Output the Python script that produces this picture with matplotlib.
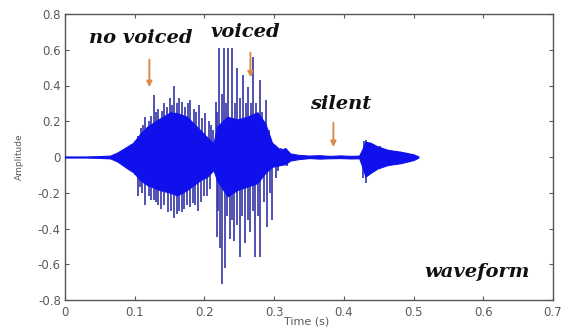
"""Speech waveform with unvoiced / voiced / silent segments marked."""

import numpy as np
import matplotlib.pyplot as plt

# dense core of the signal (envelope)
CORE_T = [0.000, 0.030, 0.050, 0.065, 0.075, 0.089, 0.098, 0.108, 0.118, 0.136, 0.151,
          0.161, 0.175, 0.194, 0.204, 0.213, 0.218, 0.233, 0.247, 0.261, 0.276,
          0.287, 0.297, 0.309, 0.316, 0.323, 0.335, 0.350, 0.365, 0.380, 0.395,
          0.410, 0.422, 0.426, 0.431, 0.438, 0.448, 0.463, 0.481, 0.500, 0.507]
CORE_HI = [0.003, 0.003, 0.005, 0.008, 0.025, 0.058, 0.080, 0.130, 0.170, 0.215, 0.250,
           0.245, 0.225, 0.150, 0.110, 0.076, 0.170, 0.225, 0.210, 0.225, 0.250,
           0.190, 0.080, 0.040, 0.050, 0.020, 0.012, 0.008, 0.010, 0.006, 0.009,
           0.006, 0.008, 0.040, 0.085, 0.080, 0.060, 0.040, 0.030, 0.015, 0.003]
CORE_LO = [-0.003, -0.003, -0.005, -0.008, -0.025, -0.063, -0.085, -0.130, -0.157, -0.185, -0.200,
           -0.215, -0.185, -0.130, -0.110, -0.073, -0.130, -0.220, -0.185, -0.166, -0.146,
           -0.090, -0.055, -0.045, -0.040, -0.020, -0.012, -0.006, -0.009, -0.007, -0.006,
           -0.008, -0.007, -0.050, -0.110, -0.090, -0.065, -0.045, -0.035, -0.017, -0.003]

# individual peaks sticking out of the core (upper side)
UP_T = [0.100, 0.104, 0.109, 0.112, 0.115, 0.121, 0.124, 0.127, 0.131, 0.134,
        0.139, 0.142, 0.146, 0.150, 0.153, 0.157, 0.161, 0.164, 0.168, 0.172,
        0.176, 0.180, 0.185, 0.188, 0.192, 0.196, 0.201, 0.206, 0.209, 0.213,
        0.216, 0.218, 0.221, 0.225, 0.228, 0.231, 0.234, 0.240, 0.244, 0.247,
        0.251, 0.255, 0.259, 0.263, 0.267, 0.270, 0.274, 0.279, 0.283, 0.288,
        0.292, 0.300, 0.310, 0.429, 0.432, 0.440, 0.452]
UP_A = [0.090, 0.120, 0.160, 0.180, 0.225, 0.200, 0.230, 0.347, 0.250, 0.270,
        0.260, 0.300, 0.280, 0.330, 0.290, 0.400, 0.300, 0.330, 0.310, 0.280,
        0.300, 0.320, 0.270, 0.250, 0.290, 0.220, 0.245, 0.200, 0.180, 0.150,
        0.310, 0.250, 0.610, 0.350, 0.610, 0.300, 0.610, 0.610, 0.300, 0.500,
        0.330, 0.460, 0.300, 0.390, 0.300, 0.560, 0.300, 0.430, 0.250, 0.320,
        0.150, 0.060, 0.050, 0.090, 0.095, 0.070, 0.060]
# (lower side)
DN_T = [0.100, 0.105, 0.108, 0.111, 0.115, 0.120, 0.123, 0.127, 0.131, 0.134,
        0.137, 0.142, 0.148, 0.152, 0.157, 0.160, 0.163, 0.168, 0.171, 0.175,
        0.180, 0.184, 0.187, 0.191, 0.195, 0.199, 0.204, 0.208,
        0.218, 0.220, 0.222, 0.225, 0.229, 0.232, 0.236, 0.239, 0.243, 0.247,
        0.251, 0.254, 0.258, 0.262, 0.266, 0.269, 0.273, 0.277, 0.280, 0.285,
        0.290, 0.294, 0.297, 0.302, 0.305, 0.318, 0.427, 0.432, 0.436, 0.445]
DN_A = [-0.100, -0.220, -0.170, -0.200, -0.270, -0.220, -0.240, -0.240, -0.250, -0.270,
        -0.290, -0.270, -0.310, -0.300, -0.340, -0.320, -0.300, -0.310, -0.290, -0.270,
        -0.280, -0.260, -0.270, -0.300, -0.250, -0.220, -0.220, -0.180,
        -0.450, -0.300, -0.510, -0.710, -0.620, -0.330, -0.460, -0.350, -0.470, -0.380,
        -0.560, -0.330, -0.480, -0.350, -0.420, -0.300, -0.560, -0.330, -0.560, -0.250,
        -0.390, -0.200, -0.350, -0.120, -0.080, -0.050, -0.120, -0.146, -0.100, -0.080]

XTICKS = [0, 0.1, 0.2, 0.3, 0.4, 0.5, 0.6, 0.7]
YTICKS = [-0.8, -0.6, -0.4, -0.2, 0, 0.2, 0.4, 0.6, 0.8]

BLUE = "#1010ec"
SPIKE = "#3434a8"
ARROW = "#d98c50"
TICKC = "#5a5a5a"

fig = plt.figure(figsize=(5.62, 3.28), dpi=100)
ax = fig.add_axes([65 / 562, 28 / 328, 488 / 562, 286 / 328])

ax.vlines(UP_T, 0, UP_A, color=SPIKE, lw=1.2, zorder=2)
ax.vlines(DN_T, DN_A, 0, color=SPIKE, lw=1.2, zorder=2)
ax.fill_between(CORE_T, CORE_LO, CORE_HI, color=BLUE, lw=0.8, edgecolor=BLUE, zorder=3)

ax.set_xlim(0, 0.7)
ax.set_ylim(-0.8, 0.8)
ax.set_xticks(XTICKS)
ax.set_xticklabels([f"{v:g}" for v in XTICKS])
ax.set_yticks(YTICKS)
ax.set_yticklabels([f"{v:g}" for v in YTICKS])
ax.tick_params(direction="in", length=3, width=0.8, top=True, right=True,
               labelsize=8.5, colors=TICKC, labelcolor=TICKC)
ax.tick_params(axis="x", pad=4)
ax.tick_params(axis="y", pad=3)
for sp in ax.spines.values():
    sp.set_color("#555555")
    sp.set_linewidth(1.0)

ax.set_xlabel("Time (s)", fontsize=8, color=TICKC)
ax.xaxis.set_label_coords(0.496, -0.057)
ax.set_ylabel("Amplitude", fontsize=6.5, color=TICKC)
ax.yaxis.set_label_coords(-0.084, 0.5)

label_kw = dict(family="DejaVu Serif", weight="bold", style="italic",
                fontsize=14, color="#111111", ha="center", va="center")
ax.text(0.108, 0.666, "no voiced", **label_kw)
ax.text(0.259, 0.697, "voiced", **label_kw)
ax.text(0.395, 0.297, "silent", **label_kw)
ax.text(0.591, -0.643, "waveform", **label_kw)

arrow_kw = dict(arrowstyle="-|>", color=ARROW, lw=1.4, mutation_scale=8)
ax.annotate("", xy=(0.121, 0.375), xytext=(0.121, 0.56), arrowprops=arrow_kw, zorder=5)
ax.annotate("", xy=(0.266, 0.43), xytext=(0.266, 0.60), arrowprops=arrow_kw, zorder=5)
ax.annotate("", xy=(0.385, 0.04), xytext=(0.385, 0.207), arrowprops=arrow_kw, zorder=5)

fig.savefig("out.png", dpi=100)
